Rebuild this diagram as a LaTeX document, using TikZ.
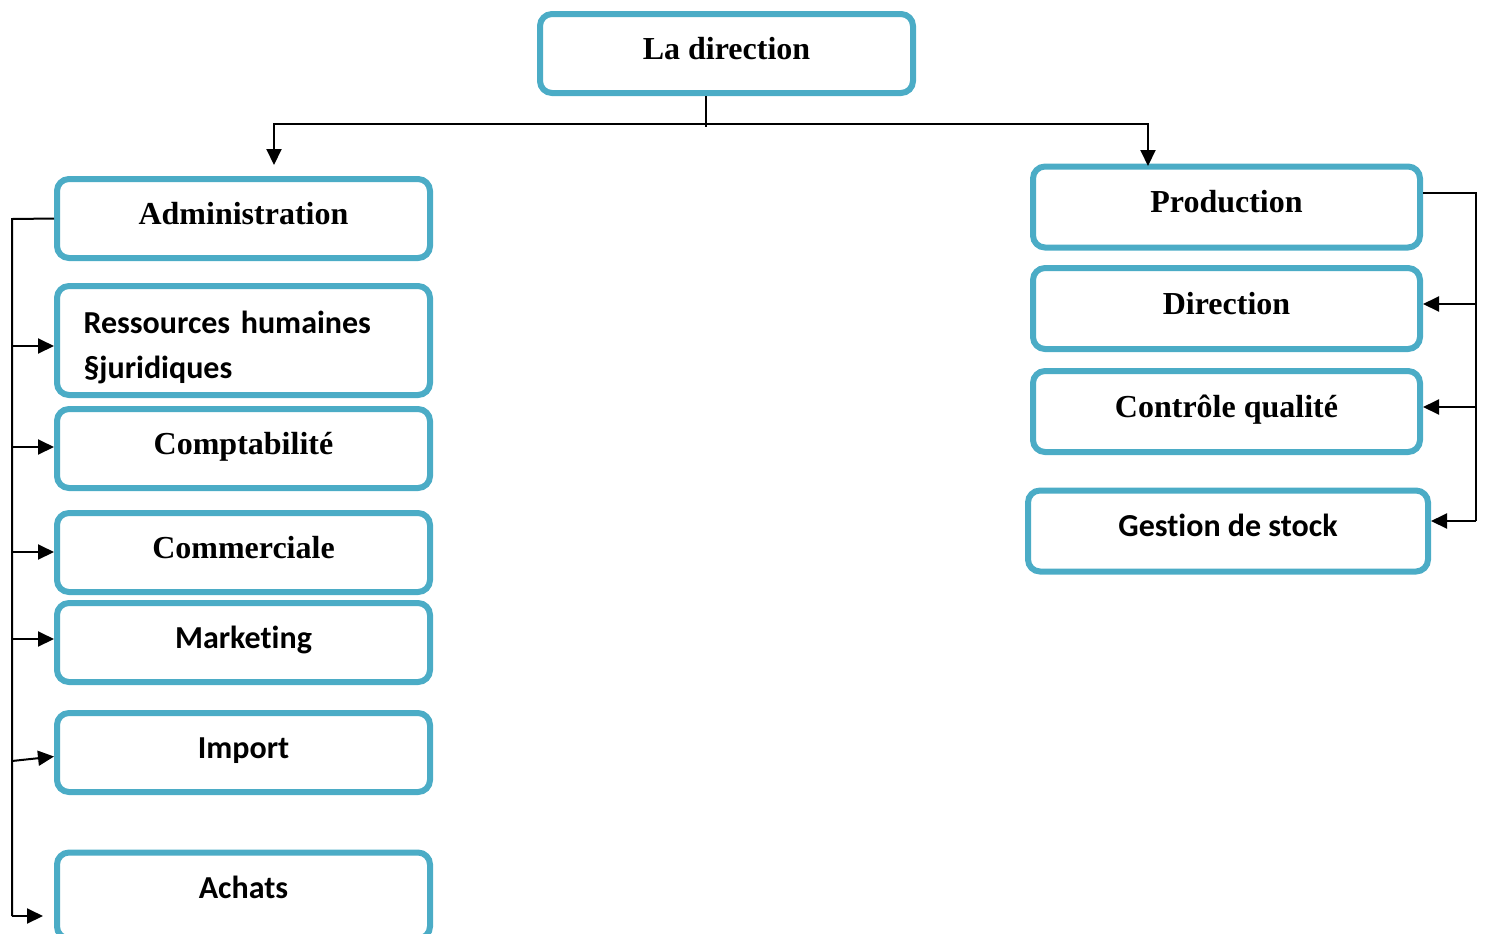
\documentclass[tikz,border=0pt]{standalone}
\usepackage{fontspec}
\setmainfont{Liberation Serif}
\newfontfamily\calib{Carlito}[Ligatures=CommonOff]
\usetikzlibrary{arrows.meta}
\definecolor{boxblue}{RGB}{75,172,198}
\tikzset{
  box/.style={draw=boxblue,line width=3pt,rounded corners=6pt,fill=white,
    inner sep=0pt,text height=11pt,text depth=5.5pt,
    minimum width=186.5pt,minimum height=39.5pt},
  rbox/.style={box,minimum height=40.5pt},
  tnr/.style={font=\fontsize{16}{19}\selectfont\bfseries},
  cal/.style={font=\calib\fontsize{16}{22.5}\selectfont\bfseries},
  arr/.style={-{Triangle[length=8pt,width=7.5pt]}},
  link/.style={line width=1pt}
}
\begin{document}
\begin{tikzpicture}[x=0.5pt,y=-0.5pt]
  \useasboundingbox (0,0) rectangle (1485,933);
  % la direction
  \node[box,tnr] (dir) at (726.5,53.5) {La direction};
  % pole administration
  \node[box,tnr] (admin) at (243.5,218.5) {Administration};
  \node[box,cal,minimum height=54.5pt,text width=160pt,align=left,text depth=18.5pt] (rh) at (243.5,340.5) {Ressources humaines\\§juridiques};
  \node[box,tnr] (compta) at (243.5,448.5) {Comptabilité};
  \node[box,tnr] (comm) at (243.5,552.5) {Commerciale};
  \node[box,cal] (mkt) at (243.5,642.5) {Marketing};
  \node[box,cal] (imp) at (243.5,752.5) {Import};
  \node[box,cal,minimum height=43pt,text depth=8.5pt] (achats) at (243.5,895.5) {Achats};
  % pole production
  \node[rbox,tnr,minimum width=193.5pt] (prod) at (1226.5,207) {Production};
  \node[rbox,tnr,minimum width=193.5pt] (direc) at (1226.5,308.5) {Direction};
  \node[rbox,tnr,minimum width=193.5pt] (cq) at (1226.5,411.5) {Contrôle qualité};
  \node[rbox,cal,minimum width=200pt] (gs) at (1228,531) {Gestion de stock};
  % liaisons du haut
  \coordinate (top) at (706,124);
  \coordinate (jl) at (274,124);
  \coordinate (jr) at (1148,124);
  \coordinate (al) at (274,165);
  \coordinate (pr) at (1148,166);
  \draw[link] (dir.south -| top) -- ([yshift=-1.5pt]top);
  \draw[link,arr] (top) -- (jl) -- (al);
  \draw[link,arr] (top) -- (jr) -- (pr);
  % bus de gauche
  \coordinate (lt) at (12,219);
  \coordinate (l1) at (12,346);
  \coordinate (l2) at (12,447);
  \coordinate (l3) at (12,552);
  \coordinate (l4) at (12,639);
  \coordinate (l5) at (12,761);
  \coordinate (l6) at (12,916);
  \coordinate (a6) at (43,916);
  \draw[link] (admin.west) -- (lt) -- (l6);
  \draw[link,arr] (l1) -- (l1 -| rh.west);
  \draw[link,arr] (l2) -- (l2 -| compta.west);
  \draw[link,arr] (l3) -- (l3 -| comm.west);
  \draw[link,arr] (l4) -- (l4 -| mkt.west);
  \draw[link,arr] (l5) -- ([yshift=-2pt]imp.west);
  \draw[link,arr] (l6) -- (a6);
  % bus de droite
  \coordinate (rt) at (1476,193);
  \coordinate (r1) at (1476,304);
  \coordinate (r2) at (1476,407);
  \coordinate (r3) at (1476,521);
  \draw[link] (rt -| prod.east) -- (rt) -- (r3);
  \draw[link,arr] (r1) -- (r1 -| direc.east);
  \draw[link,arr] (r2) -- (r2 -| cq.east);
  \draw[link,arr] (r3) -- (r3 -| gs.east);
\end{tikzpicture}
\end{document}
